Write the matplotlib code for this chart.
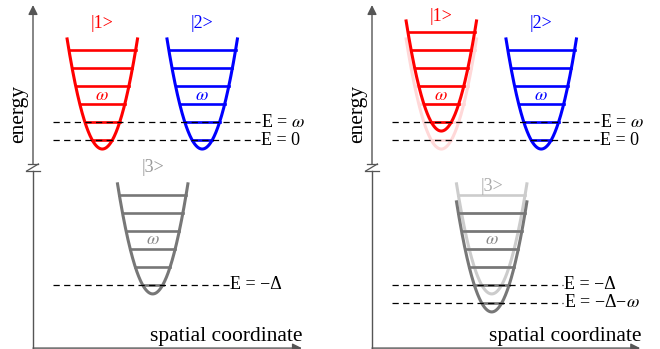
import numpy as np
import matplotlib.pyplot as plt

plt.rcParams['font.family'] = ['Liberation Serif', 'DejaVu Serif']
plt.rcParams['mathtext.fontset'] = 'stix'

# Datos (energia en unidades de omega)
omega = 1.0
delta = 8.05
well_names = ["|1>", "|2>", "|3>"]
well_x = [3.85, 9.4, 6.65]
well_min = [-0.5, -0.5, -delta - 0.5]
well_colors = ["#ff0000", "#0000ff", "#777777"]
faded_colors = ["#ffd8d8", "#c8c8ff", "#cccccc"]
label_colors = ["#ff0000", "#0000ff", "#999999"]
shift_right = [1, 0, -1]          # desplazamiento en el panel derecho
n_levels = 6
k = 1.6                           # curvatura del pozo
top_height = 6.2

label_y_left = [6.5, 6.5, -1.55]
label_y_right = [6.85, 6.5, -2.6]

lines_left = [(1.0, "E = $\\omega$", 12.6), (0.0, "E = 0", 12.6),
              (-delta, "E = \u2212\u0394", 10.9)]
lines_right = [(1.0, "E = $\\omega$", 12.6), (0.0, "E = 0", 12.6),
               (-delta, "E = \u2212\u0394", 10.6),
               (-delta - omega, "E = \u2212\u0394\u2212$\\omega$", 10.6)]

ylim = (-11.61, 7.78)
y_bot, y_top = -11.56, 7.5
brk = (-1.72, -1.33)
axis_col = "#555555"


def draw_well(ax, xc, emin, color, lw=2.2, llw=1.9, z=3):
    xt = np.sqrt(top_height / k)
    xs = np.linspace(-xt, xt, 200)
    ax.plot(xc + xs, emin + k * xs**2, color=color, lw=lw, zorder=z,
            solid_capstyle='butt')
    for n in range(n_levels):
        e = emin + 0.5 * omega + n * omega
        hw = np.sqrt((e - emin) / k)
        ax.plot([xc - hw, xc + hw], [e, e], color=color, lw=llw, zorder=z)


def draw_axes(ax, xend):
    ax.plot([0, 0], [y_bot, brk[0]], color=axis_col, lw=1.0, clip_on=False)
    ax.annotate('', xy=(0, y_top), xytext=(0, brk[1]),
                arrowprops=dict(arrowstyle='-|>', color=axis_col, lw=1.0,
                                mutation_scale=14, shrinkA=0, shrinkB=0))
    ax.annotate('', xy=(xend, y_bot), xytext=(0, y_bot),
                arrowprops=dict(arrowstyle='-|>', color=axis_col, lw=1.0,
                                mutation_scale=14, shrinkA=0, shrinkB=0))
    # marca de corte del eje
    ax.plot([-0.3, 0.3], [brk[1], brk[1]], color=axis_col, lw=0.9, clip_on=False)
    ax.plot([-0.4, 0.4], [brk[0], brk[0]], color=axis_col, lw=0.9, clip_on=False)
    ax.plot([-0.35, 0.3], [brk[0], brk[1]], color=axis_col, lw=0.9, clip_on=False)
    ax.text(xend + 0.05, y_bot + 0.12, "spatial coordinate", ha='right',
            va='bottom', fontsize=15.5)
    ax.text(-0.8, 1.45, "energy", rotation=90, ha='center', va='center',
            fontsize=15.5)


def draw_lines(ax, lines):
    for e, txt, xe in lines:
        ax.plot([1.1, xe], [e, e], color='black', lw=0.9, ls=(0, (5, 3.5)),
                zorder=5)
        ax.text(xe + 0.05, e, txt, ha='left', va='center', fontsize=13,
                zorder=6)


fig = plt.figure(figsize=(6.6, 3.49), dpi=100)
axL = fig.add_axes([33 / 660, 0, 297 / 660, 1])
axR = fig.add_axes([372 / 660, 0, 288 / 660, 1])
for ax, w in [(axL, 297), (axR, 288)]:
    ax.set_xlim(0, w / 18)
    ax.set_ylim(*ylim)
    ax.axis('off')

# panel izquierdo
for i in range(3):
    draw_well(axL, well_x[i], well_min[i], well_colors[i])
    axL.text(well_x[i], label_y_left[i], well_names[i], color=label_colors[i],
             ha='center', va='center', fontsize=13)
    axL.text(well_x[i], well_min[i] + 0.5 + 2.5 * omega, "$\\omega$",
             color=label_colors[i] if i < 2 else "#888888", ha='center',
             va='center', fontsize=13, zorder=4)
draw_lines(axL, lines_left)
draw_axes(axL, 14.94)

# panel derecho
for i in range(3):
    if shift_right[i] != 0:
        draw_well(axR, well_x[i], well_min[i], faded_colors[i], z=2)
    draw_well(axR, well_x[i], well_min[i] + shift_right[i] * omega,
              well_colors[i])
    col = label_colors[i] if i < 2 else "#aaaaaa"
    axR.text(well_x[i], label_y_right[i], well_names[i], color=col,
             ha='center', va='center', fontsize=13, zorder=6)
    axR.text(well_x[i], well_min[i] + 0.5 + 2.5 * omega, "$\\omega$",
             color=label_colors[i] if i < 2 else "#888888", ha='center',
             va='center', fontsize=13, zorder=4)
draw_lines(axR, lines_right)
draw_axes(axR, 14.9)

fig.savefig("out.png", dpi=100)
